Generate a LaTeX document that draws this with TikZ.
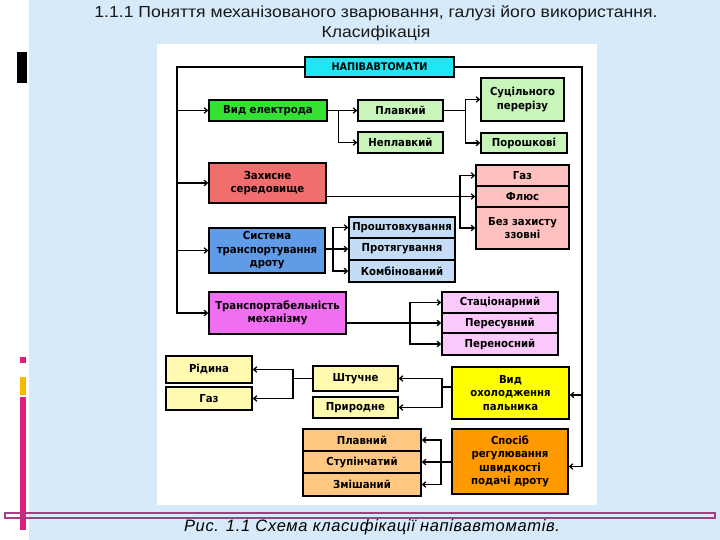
\documentclass[tikz,border=0pt]{standalone}
\usepackage{fontspec}
\setmainfont{DejaVu Sans}
\newfontfamily\boxfont{DejaVu Sans}[FakeStretch=0.92]
\newfontfamily\titlefont{Liberation Sans}[FakeStretch=1.1]
\newfontfamily\capfont{Liberation Sans}[LetterSpace=4]
\usetikzlibrary{arrows.meta,calc}
\definecolor{bgblue}{RGB}{214,234,250}
\definecolor{cyanbox}{RGB}{30,230,242}
\definecolor{greenbox}{RGB}{50,225,50}
\definecolor{lgreen}{RGB}{200,245,185}
\definecolor{redbox}{RGB}{240,110,110}
\definecolor{lred}{RGB}{255,192,192}
\definecolor{bluebox}{RGB}{95,155,230}
\definecolor{lblue}{RGB}{196,220,246}
\definecolor{magbox}{RGB}{240,110,240}
\definecolor{lmag}{RGB}{250,200,250}
\definecolor{lyellow}{RGB}{255,250,175}
\definecolor{yellowbox}{RGB}{255,255,0}
\definecolor{lorange}{RGB}{255,200,130}
\definecolor{orangebox}{RGB}{255,153,0}
\definecolor{barpink}{RGB}{222,30,125}
\definecolor{bargold}{RGB}{245,185,0}
\definecolor{plumline}{RGB}{170,60,130}
\tikzset{
  box/.style={draw=black, line width=1.5pt, inner sep=1pt, align=center,
    font=\boxfont\bfseries\fontsize{11}{13.5}\selectfont},
  arr/.style={line width=1.25pt, -{Straight Barb[length=3.2pt,width=5.5pt]}},
  ln/.style={line width=1.25pt}
}
\begin{document}
\begin{tikzpicture}[x=1pt,y=-1pt]
\useasboundingbox (0,0) rectangle (720,540);
\fill[white] (0,0) rectangle (720,540);
\fill[bgblue] (29,0) rectangle (720,540);
\fill[white] (157,44) rectangle (597,505);
% decorations
\fill[black] (17,52) rectangle (27,83);
\fill[barpink] (20,357) rectangle (26,363);
\fill[bargold] (20,377) rectangle (26,395);
\fill[barpink] (20,397) rectangle (26,530);
\draw[plumline, line width=1.5pt] (5,513) rectangle (715,518);
% titles
\node[anchor=base, inner sep=0, font=\titlefont\fontsize{16}{18}\selectfont, text=black!90] (t1) at (376,18) {1.1.1 Поняття механізованого зварювання, галузі його використання.};
\node[anchor=base, inner sep=0, font=\titlefont\fontsize{16}{18}\selectfont, text=black!90] (t2) at (376,38) {Класифікація};
\node[anchor=base, inner sep=0, font=\capfont\itshape\fontsize{16.5}{18}\selectfont] (cap) at (372,531) {Рис. 1.1 Схема класифікації напівавтоматів.};
% nodes
\node[box, fill=cyanbox, minimum width=149pt, minimum height=20pt, font=\boxfont\bfseries\fontsize{10.5}{12}\selectfont] (nap) at (379.5,67) {НАПІВАВТОМАТИ};
\node[box, fill=greenbox, minimum width=118pt, minimum height=21pt] (vid) at (268,110.5) {Вид електрода};
\node[box, fill=lgreen, minimum width=85pt, minimum height=21pt] (plav) at (400.5,110.5) {Плавкий};
\node[box, fill=lgreen, minimum width=85pt, minimum height=21pt] (neplav) at (400.5,142.5) {Неплавкий};
\node[box, fill=lgreen, minimum width=83pt, minimum height=43pt] (suc) at (522.5,99.5) {Суцільного\\перерізу};
\node[box, fill=lgreen, minimum width=86pt, minimum height=20pt] (por) at (524,143) {Порошкові};
\node[box, fill=redbox, minimum width=117pt, minimum height=40pt] (zah) at (267.5,183) {Захисне\\середовище};
\node[box, fill=lred, minimum width=93pt, minimum height=21pt] (gaz1) at (522.5,175.5) {Газ};
\node[box, fill=lred, minimum width=93pt, minimum height=21pt] (flux) at (522.5,196.5) {Флюс};
\node[box, fill=lred, minimum width=93pt, minimum height=42pt] (bez) at (522.5,228) {Без захисту\\ззовні};
\node[box, fill=bluebox, minimum width=116pt, minimum height=45pt] (sys) at (267,250.5) {Система\\транспортування\\дроту};
\node[box, fill=lblue, minimum width=106pt, minimum height=21pt] (prosh) at (402,227.5) {Проштовхування};
\node[box, fill=lblue, minimum width=106pt, minimum height=22pt] (prot) at (402,249) {Протягування};
\node[box, fill=lblue, minimum width=106pt, minimum height=22pt] (komb) at (402,271) {Комбінований};
\node[box, fill=magbox, minimum width=137pt, minimum height=42pt] (trans) at (277.5,313) {Транспортабельність\\механізму};
\node[box, fill=lmag, minimum width=116pt, minimum height=21pt] (stac) at (500,302.5) {Стаціонарний};
\node[box, fill=lmag, minimum width=116pt, minimum height=20pt] (peres) at (500,323) {Пересувний};
\node[box, fill=lmag, minimum width=116pt, minimum height=22pt] (perenos) at (500,344) {Переносний};
\node[box, fill=lyellow, minimum width=86pt, minimum height=27pt] (ridyna) at (209,369.5) {Рідина};
\node[box, fill=lyellow, minimum width=86pt, minimum height=23pt] (gaz2) at (209,398.5) {Газ};
\node[box, fill=lyellow, minimum width=85pt, minimum height=25pt] (shtuch) at (355.5,378.5) {Штучне};
\node[box, fill=lyellow, minimum width=85pt, minimum height=21pt] (pryr) at (355.5,407.5) {Природне};
\node[box, fill=yellowbox, minimum width=117pt, minimum height=52pt] (ohol) at (510.5,393) {Вид\\охолодження\\пальника};
\node[box, fill=lorange, minimum width=118pt, minimum height=22pt] (plavn) at (362,440) {Плавний};
\node[box, fill=lorange, minimum width=118pt, minimum height=22pt] (stup) at (362,462) {Ступінчатий};
\node[box, fill=lorange, minimum width=118pt, minimum height=23pt] (zmish) at (362,484.5) {Змішаний};
\node[box, fill=orangebox, minimum width=116pt, minimum height=65pt] (sposib) at (510,461.5) {Спосіб\\регулювання\\швидкості\\подачі дроту};
% frame connectors
\coordinate (L) at (177,67);
\coordinate (R) at (582,67);
\draw[arr] (nap.west) -| (trans.west -| L) -- (trans.west);
\draw[arr] (vid.west -| L) -- (vid.west);
\draw[arr] (zah.west -| L) -- (zah.west);
\draw[arr] (sys.west -| L) -- (sys.west);
\draw[arr] (nap.east) -| ($(sposib.east -| R)+(0,5)$) -- ($(sposib.east)+(0,5)$);
\draw[arr] ($(ohol.east -| R)+(0,2)$) -- ($(ohol.east)+(0,2)$);
% electrode
\draw[arr] (vid.east) -- (plav.west);
\coordinate (b1) at ($(vid.east)+(11,0)$);
\draw[arr] (b1) |- (neplav.west);
\coordinate (b2) at ($(plav.east)+(22,0)$);
\draw[ln] (plav.east) -- (b2);
\draw[arr] (b2) |- (suc.west);
\draw[arr] (b2) |- (por.west);
% protection
\draw[arr] (flux.west -| zah.east) -- (flux.west);
\coordinate (b3) at (460,196.5);
\draw[arr] (b3) |- (gaz1.west);
\draw[arr] (b3) |- (bez.west);
% wire system
\draw[arr] (prot.west -| sys.east) -- (prot.west);
\coordinate (b4) at (333,249);
\draw[arr] (b4) |- (prosh.west);
\draw[arr] (b4) |- (komb.west);
% transportability
\draw[arr] (peres.west -| trans.east) -- (peres.west);
\coordinate (b5) at (410,323);
\draw[arr] (b5) |- (stac.west);
\draw[arr] (b5) |- (perenos.west);
% cooling
\coordinate (b6) at (442,387);
\draw[ln] (b6 -| ohol.west) -- (b6);
\draw[arr] (b6) |- (shtuch.east);
\draw[arr] (b6) |- (pryr.east);
\coordinate (b7) at (293,378.5);
\draw[ln] (shtuch.west) -- (b7);
\draw[arr] (b7) |- (ridyna.east);
\draw[arr] (b7) |- (gaz2.east);
% speed regulation
\draw[arr] (stup.east -| sposib.west) -- (stup.east);
\coordinate (b8) at (441,462);
\draw[arr] (b8) |- (plavn.east);
\draw[arr] (b8) |- (zmish.east);
\end{tikzpicture}
\end{document}
